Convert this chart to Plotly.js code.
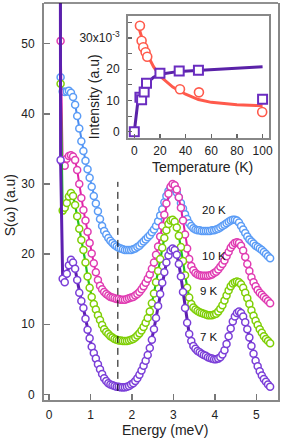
<!DOCTYPE html>
<html><head><meta charset="utf-8">
<script src="https://cdn.plot.ly/plotly-3.0.1.min.js"></script>
<style>html,body{margin:0;padding:0;background:#fff}#g{width:289px;height:443px}</style>
</head><body><div id="g"></div>
<script>
// Energy grid (meV)
const energy = [0.28,0.33,0.38,0.43,0.48,0.53,0.58,0.63,0.68,0.73,0.78,0.83,0.88,0.93,0.98,1.03,1.08,1.13,1.18,1.23,1.28,1.33,1.38,1.43,1.48,1.53,1.58,1.63,1.68,1.73,1.78,1.83,1.88,1.93,1.98,2.03,2.08,2.13,2.18,2.23,2.28,2.33,2.38,2.43,2.48,2.53,2.58,2.63,2.68,2.73,2.78,2.83,2.88,2.93,2.98,3.03,3.08,3.13,3.18,3.23,3.28,3.33,3.38,3.43,3.48,3.53,3.58,3.63,3.68,3.73,3.78,3.83,3.88,3.93,3.98,4.03,4.08,4.13,4.18,4.23,4.28,4.33,4.38,4.43,4.48,4.53,4.58,4.63,4.68,4.73,4.78,4.83,4.88,4.93,4.98,5.03,5.08,5.13,5.18,5.23,5.28,5.33];

const s20K = [45.2,43.2,43.1,43.2,43.3,43.0,42.4,41.3,39.7,37.9,36.1,34.7,33.3,32.1,30.9,29.6,28.3,27.2,26.1,25.0,24.0,23.3,22.8,22.3,21.9,21.6,21.3,21.1,20.9,20.8,20.7,20.6,20.6,20.6,20.6,20.7,20.8,21.0,21.2,21.5,21.8,22.1,22.4,22.7,23.1,23.5,24.0,24.7,25.5,26.4,27.4,28.3,29.0,29.4,29.5,29.3,28.8,28.1,27.3,26.5,25.7,25.0,24.4,24.0,23.7,23.5,23.4,23.4,23.3,23.3,23.3,23.3,23.3,23.4,23.4,23.5,23.6,23.8,24.0,24.2,24.4,24.6,24.8,24.9,24.9,24.8,24.5,24.0,23.5,23.0,22.5,22.1,21.8,21.5,21.2,21.0,20.8,20.6,20.3,20.0,19.7,19.4];

const s10K = [50.4,33.0,32.6,33.6,34.0,34.1,33.9,33.4,32.0,30.0,28.0,26.3,24.8,23.2,21.6,20.1,18.7,17.4,16.3,15.5,15.0,14.6,14.3,14.1,13.9,13.8,13.7,13.6,13.6,13.5,13.5,13.5,13.6,13.7,13.8,13.9,14.1,14.3,14.6,15.0,15.4,15.9,16.5,17.1,17.9,18.8,19.9,21.1,22.5,24.0,25.6,27.2,28.6,29.6,30.0,29.8,29.2,28.1,26.6,24.8,22.8,20.8,19.3,18.3,17.7,17.3,17.1,17.0,16.9,16.9,16.9,16.9,17.0,17.1,17.3,17.5,17.8,18.2,18.6,19.1,19.7,20.3,20.9,21.3,21.6,21.7,21.6,21.2,20.5,19.6,18.6,17.6,16.7,16.0,15.4,14.9,14.5,14.2,13.9,13.6,13.3,13.0];

const s9K = [44.3,26.2,26.6,27.3,28.2,28.7,28.3,27.0,25.4,23.6,22.0,20.6,18.8,16.8,15.2,13.9,12.9,12.1,11.3,10.6,9.9,9.3,8.9,8.6,8.3,8.1,7.9,7.8,7.7,7.7,7.6,7.6,7.6,7.7,7.8,7.9,8.1,8.4,8.7,9.1,9.6,10.2,10.9,11.8,13.0,14.4,16.0,17.6,19.3,20.9,22.3,23.4,24.3,24.8,24.9,24.6,23.8,22.6,21.0,19.0,17.0,15.2,13.8,12.9,12.4,12.1,11.9,11.7,11.6,11.5,11.4,11.3,11.3,11.3,11.4,11.5,11.8,12.2,12.7,13.4,14.1,14.8,15.4,15.8,16.0,16.1,16.0,15.7,15.2,14.5,13.7,12.9,12.0,11.2,10.5,9.9,9.3,8.8,8.3,7.9,7.6,7.3];

const s7K = [33.4,16.5,16.0,17.2,18.4,19.2,18.8,17.9,16.3,14.5,13.3,12.3,10.8,9.2,8.0,6.8,5.9,5.1,4.3,3.6,2.9,2.3,1.9,1.6,1.4,1.3,1.2,1.1,1.1,1.0,1.0,1.0,1.1,1.2,1.4,1.6,1.9,2.3,2.8,3.4,4.1,4.8,5.6,6.6,7.8,9.3,10.9,12.6,14.3,15.9,17.4,18.8,19.8,20.5,20.8,20.6,19.9,18.6,16.8,14.6,12.3,10.2,8.6,7.6,6.9,6.5,6.2,6.0,5.8,5.6,5.5,5.3,5.2,5.1,5.0,5.0,5.1,5.3,5.7,6.3,7.2,8.3,9.4,10.4,11.1,11.6,11.8,11.6,11.1,10.3,9.3,8.1,6.9,5.8,4.8,4.0,3.3,2.7,2.2,1.8,1.4,1.1];

// elastic tail start of the fit lines (goes off the top)
const tailE = [0.27];
const tailS = [80];

const seriesLabels = ['20 K','10 K','9 K','7 K'];
const labelE = [3.63,3.63,3.6,3.6];
const labelS = [26.35,19.8,14.75,8.2];

// dashed marker
const dashE = 1.66;
const dashS = [0.5,30.3];

// inset data
const redT = [4.4,5.7,7.0,8.8,10.1,35.6,50.4,99.7];
const redI = [33.9,29.1,27.0,25.4,24.0,13.6,12.6,6.3];
const redFitT = [2.6,5,7,10,15,20,25,30,40,50,60,70,80,90,100];
const redFitI = [34.6,31.0,28.5,24.8,20.8,17.8,16.0,14.3,12.0,10.3,9.4,8.9,8.6,8.45,8.35];
const purT = [0,4.4,5.7,7.7,9.5,20,35,50,100];
const purI = [0,11.0,10.2,12.7,15.5,18.7,19.4,19.7,10.4];
const purFitT = [0,3,5,7,10,15,20,35,50,75,100];
const purFitI = [0,10.4,12.3,13.8,15.6,17.4,18.4,19.3,19.7,20.3,20.8];

const insetYTicks = [0,10,20,30];
const insetYText = ['0','10','20','30x10<sup>-3</sup>'];
const insetYMinor = [5,15,25,35];
const insetXTicks = [0,20,40,60,80,100];

const FONT = 'Liberation Sans, Arial, Helvetica, sans-serif';
const series = [
  {y:s20K, mc:'#5b9cf6', lc:'#4a8cf0', lw:2},
  {y:s10K, mc:'#e03cb2', lc:'#e21fa6', lw:2},
  {y:s9K,  mc:'#7fcf06', lc:'#22c21e', lw:2.2},
  {y:s7K,  mc:'#7b3fd8', lc:'#5d1fb0', lw:3}
];

const traces = [];
series.forEach(s => {
  traces.push({x: tailE.concat(energy), y: tailS.concat(s.y), mode:'lines', type:'scatter',
    line:{color:s.lc, width:s.lw}, hoverinfo:'skip', showlegend:false});
  traces.push({x: energy, y: s.y, mode:'markers', type:'scatter', showlegend:false,
    marker:{symbol:'circle', size:7, color:'#ffffff', line:{color:s.mc, width:1.5}}});
});
traces.push({x:redFitT, y:redFitI, xaxis:'x2', yaxis:'y2', mode:'lines', line:{color:'#ff5a4c', width:3}, showlegend:false});
traces.push({x:purFitT, y:purFitI, xaxis:'x2', yaxis:'y2', mode:'lines', line:{color:'#5a22a8', width:3}, showlegend:false});
traces.push({x:redT, y:redI, xaxis:'x2', yaxis:'y2', mode:'markers', showlegend:false,
  marker:{symbol:'circle', size:9, color:'#ffffff', line:{color:'#ff5a4c', width:1.6}}});
traces.push({x:purT, y:purI, xaxis:'x2', yaxis:'y2', mode:'markers', showlegend:false,
  marker:{symbol:'square', size:9, color:'#ffffff', line:{color:'#6a2cc0', width:2}}});

const ann = seriesLabels.map((t,i)=>({x:labelE[i], y:labelS[i], xref:'x', yref:'y', text:t, showarrow:false,
  xanchor:'left', yanchor:'middle', font:{family:FONT, size:11.5, color:'#111'}}));
ann.push({xref:'paper', yref:'paper', x:0.517, y:-0.0756, text:'Energy (meV)', showarrow:false, xanchor:'center', yanchor:'middle', font:{family:FONT, size:14, color:'#222'}});
ann.push({xref:'paper', yref:'paper', x:-0.142, y:0.49, text:'S(ω) (a.u)', textangle:-90, showarrow:false, xanchor:'center', yanchor:'middle', font:{family:FONT, size:14, color:'#222'}});
ann.push({xref:'paper', yref:'paper', x:0.677, y:0.587, text:'Temperature (K)', showarrow:false, xanchor:'center', yanchor:'middle', font:{family:FONT, size:14, color:'#222'}});
ann.push({xref:'paper', yref:'paper', x:0.214, y:0.763, text:'Intensity (a.u)', textangle:-90, showarrow:false, xanchor:'center', yanchor:'middle', font:{family:FONT, size:14, color:'#222'}});

const tickF = {family:FONT, size:12, color:'#222'};
const layout = {
  width:289, height:443, margin:{l:44, r:11, t:3, b:43},
  paper_bgcolor:'#fff', plot_bgcolor:'#fff', showlegend:false,
  xaxis:{domain:[0,1], range:[-0.12,5.52], tickvals:[0,1,2,3,4,5], ticks:'inside', ticklen:6, tickwidth:1.5, tickcolor:'#777',
    showline:true, linecolor:'#888', linewidth:2, mirror:false, showgrid:false, zeroline:false, tickfont:tickF, ticklabelstandoff:3},
  yaxis:{domain:[0,1], range:[-0.8,55.8], tickvals:[0,10,20,30,40,50], ticks:'inside', ticklen:6, tickwidth:1.5, tickcolor:'#777',
    showline:true, linecolor:'#888', linewidth:2, mirror:true, showgrid:false, zeroline:false, tickfont:tickF, ticklabelstandoff:5},
  xaxis2:{domain:[0.359,0.9615], anchor:'y2', range:[-4.9,105], tickvals:insetXTicks, ticks:'inside', ticklen:4, tickwidth:1.2, tickcolor:'#666',
    showline:true, linecolor:'#888', linewidth:2, mirror:true, showgrid:false, zeroline:false, tickfont:tickF, ticklabelstandoff:1},
  yaxis2:{domain:[0.6607,0.968], anchor:'x2', range:[-1.9,37.1], tickvals:insetYTicks, ticktext:insetYText, ticks:'inside', ticklen:4, tickwidth:1.2, tickcolor:'#666',
    minor:{tickmode:'array', tickvals:insetYMinor, ticks:'inside', ticklen:4, tickwidth:1.2, tickcolor:'#666', showgrid:false},
    showline:true, linecolor:'#888', linewidth:2, mirror:true, showgrid:false, zeroline:false, tickfont:tickF, ticklabelstandoff:4},
  shapes:[
    {type:'line', xref:'x', yref:'y', x0:dashE, x1:dashE, y0:dashS[0], y1:dashS[1], line:{color:'#000', width:1, dash:'7px,5px'}},
    {type:'line', xref:'paper', yref:'paper', x0:0, x1:1, y0:1, y1:1, line:{color:'#222', width:1}}
  ],
  annotations: ann
};
Plotly.newPlot('g', traces, layout, {staticPlot:true, displayModeBar:false});
</script></body></html>
